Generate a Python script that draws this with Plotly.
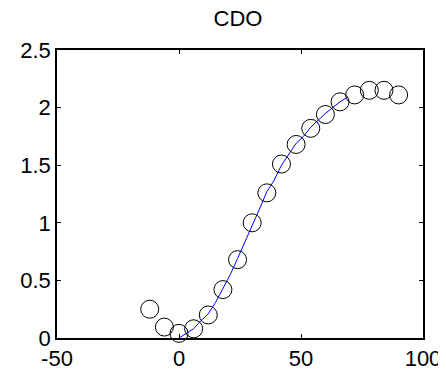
import plotly.graph_objects as go

# measured points (open circles)
x_obs = [-12, -6, 0, 6, 12, 18, 24, 30, 36, 42, 48, 54, 60, 66, 72, 78, 84, 90]
y_obs = [0.25, 0.095, 0.04, 0.08, 0.2, 0.42, 0.68, 1.0, 1.26, 1.51, 1.68, 1.82, 1.94, 2.05, 2.11, 2.15, 2.15, 2.11]

# fitted curve (blue)
x_fit = [0, 3, 6, 9, 12, 15, 18, 21, 24, 27, 30, 33, 36, 39, 42, 45, 48, 51, 54, 57, 60, 63, 66, 69]
y_fit = [0.0, 0.04, 0.08, 0.15, 0.21, 0.31, 0.43, 0.55, 0.69, 0.83, 0.98, 1.12, 1.27, 1.37, 1.5, 1.59, 1.69, 1.75, 1.83, 1.89, 1.95, 2.0, 2.05, 2.09]

x_ticks = [-50, 0, 50, 100]
x_labels = ["-50", "0", "50", "100"]
y_ticks = [0, 0.5, 1, 1.5, 2, 2.5]
y_labels = ["0", "0.5", "1", "1.5", "2", "2.5"]

axis_font = dict(family="Arial, Liberation Sans, sans-serif", size=22, color="black")

fig = go.Figure()
fig.add_trace(go.Scatter(
    x=x_fit, y=y_fit, mode="lines",
    line=dict(color="blue", width=1),
    showlegend=False, cliponaxis=False
))
fig.add_trace(go.Scatter(
    x=x_obs, y=y_obs, mode="markers",
    marker=dict(symbol="circle-open", size=18, color="black", line=dict(width=1)),
    showlegend=False, cliponaxis=False
))

# page body has an 8px margin, so the figure is 8px smaller each way
fig.update_layout(
    width=438, height=371,
    margin=dict(l=49, r=23, t=42, b=41),
    paper_bgcolor="white", plot_bgcolor="white",
    title=dict(text="CDO", x=0.525, xanchor="center", y=0.972, yanchor="middle",
               font=dict(family="Arial, Liberation Sans, sans-serif", size=22, color="black")),
)
fig.update_xaxes(
    range=[-50, 100], tickvals=x_ticks, ticktext=x_labels,
    showline=True, linecolor="black", linewidth=1.5, mirror="ticks",
    ticks="inside", ticklen=4, tickcolor="black", automargin=False,
    showgrid=False, zeroline=False, tickfont=axis_font
)
fig.update_yaxes(
    range=[0, 2.5], tickvals=y_ticks, ticktext=y_labels,
    showline=True, linecolor="black", linewidth=1.5, mirror="ticks",
    ticks="inside", ticklen=4, tickcolor="black", automargin=False,
    showgrid=False, zeroline=False, tickfont=axis_font
)

fig.write_html("out.html")
